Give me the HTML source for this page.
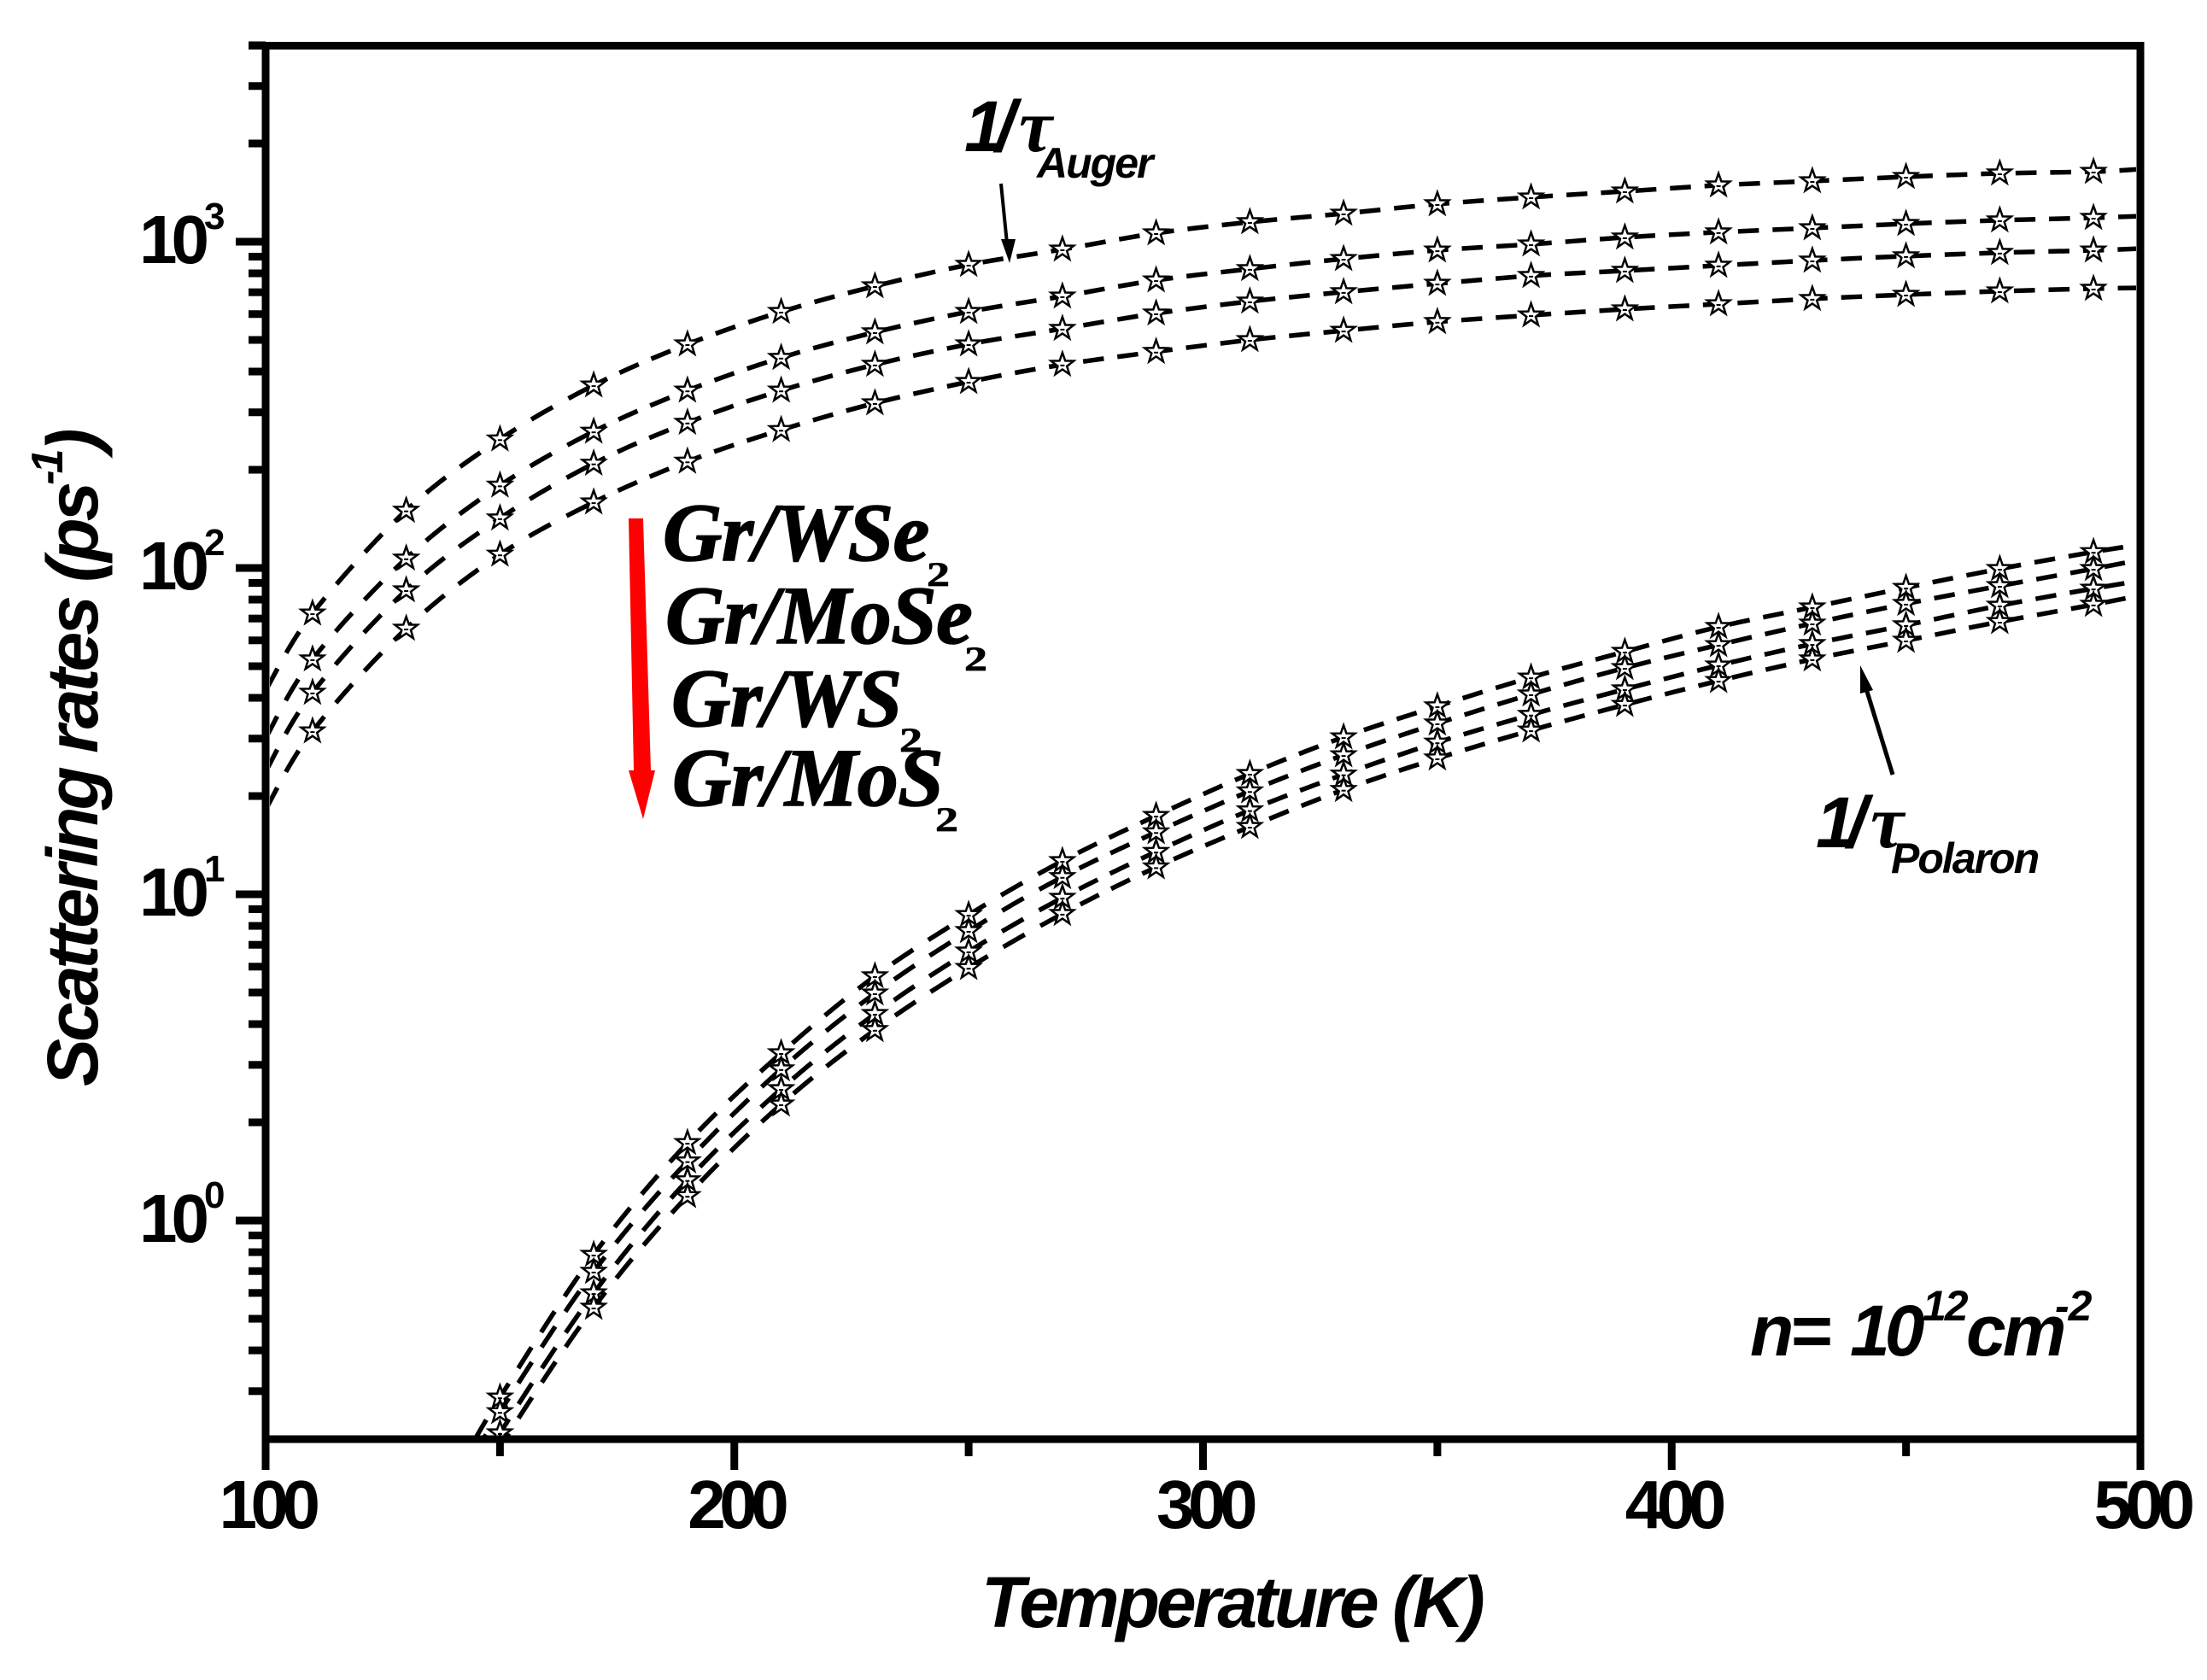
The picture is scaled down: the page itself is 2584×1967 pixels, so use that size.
<!DOCTYPE html>
<html lang="en">
<head>
<meta charset="utf-8">
<title>Scattering rates vs temperature</title>
<style>
html,body{margin:0;padding:0;background:#fff;}
svg{display:block;}
.sans{font-family:"Liberation Sans",sans-serif;font-weight:bold;fill:#000;}
.bi{font-family:"Liberation Sans",sans-serif;font-weight:bold;font-style:italic;fill:#000;}
.serif{font-family:"Liberation Serif",serif;font-weight:bold;font-style:italic;fill:#000;}
.heavy{stroke:#000;stroke-width:1.6;}
.serif2{font-family:"Liberation Serif",serif;font-weight:bold;fill:#000;stroke:#000;stroke-width:0.7;}
</style>
</head>
<body>
<svg id="chart" xmlns="http://www.w3.org/2000/svg" width="2584" height="1967" viewBox="0 0 2584 1967">
  <rect x="0" y="0" width="2584" height="1967" fill="#fff"/>
  <defs><clipPath id="plotClip"><rect x="316" y="58" width="2185" height="1623"/></clipPath></defs>
  <g id="series" clip-path="url(#plotClip)"></g>
  <g id="axes"></g>

  <text class="bi" x="1149" y="1905" font-size="84" letter-spacing="-4">Temperature (K)</text>
  <text class="bi" transform="translate(114,1272) rotate(-90)" font-size="84" letter-spacing="-4">Scattering rates (ps<tspan font-size="52" dy="-41">-1</tspan><tspan dy="41">)</tspan></text>

  <polygon points="736,607 753,607 762,902 767,902 753,959 736,902 742,902" fill="#ff0000"/>

  <g>
    <text class="serif heavy" x="776" y="656" font-size="96" letter-spacing="-0.5">Gr/WSe</text>
    <text class="serif2" transform="translate(1085,686) scale(1.35,1)" font-size="40">2</text>
    <text class="serif heavy" x="779" y="753" font-size="96" letter-spacing="-0.5">Gr/MoSe</text>
    <text class="serif2" transform="translate(1129,785) scale(1.35,1)" font-size="40">2</text>
    <text class="serif heavy" x="786" y="850" font-size="96" letter-spacing="-0.5">Gr/WS</text>
    <text class="serif2" transform="translate(1053,880) scale(1.35,1)" font-size="40">2</text>
    <text class="serif heavy" x="787" y="943" font-size="96" letter-spacing="-0.5">Gr/MoS</text>
    <text class="serif2" transform="translate(1095,973) scale(1.35,1)" font-size="40">2</text>
  </g>

  <g>
    <text class="bi" x="1129" y="177" font-size="84" letter-spacing="-10">1/</text>
    <text class="serif" x="1193" y="177" font-size="88">τ</text>
    <text class="bi" x="1214" y="208" font-size="50" letter-spacing="-2">Auger</text>
    <line x1="1172" y1="215" x2="1179" y2="285" stroke="#000" stroke-width="4"/>
    <polygon points="1172,280 1189,280 1182,308" fill="#000"/>
  </g>

  <g>
    <text class="bi" x="2126" y="992" font-size="84" letter-spacing="-10">1/</text>
    <text class="serif" x="2190" y="992" font-size="88">τ</text>
    <text class="bi" x="2214" y="1022" font-size="50" letter-spacing="-2">Polaron</text>
    <line x1="2216" y1="907" x2="2183" y2="800" stroke="#000" stroke-width="5"/>
    <polygon points="2178,779 2193,808 2178,812" fill="#000"/>
  </g>

  <g>
    <text class="bi" x="2049" y="1587" font-size="84">n</text>
    <text class="sans" x="2097" y="1587" font-size="84">=</text>
    <text class="bi" x="2166" y="1587" font-size="84" letter-spacing="-6">10</text>
    <text class="bi" x="2251" y="1546" font-size="50" letter-spacing="-2">12</text>
    <text class="bi" x="2302" y="1587" font-size="84" letter-spacing="-4">cm</text>
    <text class="bi" x="2406" y="1546" font-size="50" letter-spacing="-1">-2</text>
  </g>
</svg>

<script>
// ---- Data ----
const markerTemps = [110,130,150,170,190,210,230,250,270,290,310,330,350,370,390,410,430,450,470,490];
const augerTemps = [100,110,130,150,170,190,210,230,250,270,290,310,330,350,370,390,410,430,450,470,490,500];
const augerWSe2  = [42.2,72.6,150,248,363,485,610,731,850,947,1062,1149,1220,1304,1368,1427,1489,1534,1581,1620,1639,1669];
const augerMoSe2 = [30.1,52.5,107,179,262,350,441,528,610,680,762,825,886,941,982,1031,1069,1101,1135,1163,1184,1198];
const augerWS2   = [23.8,41.5,85.5,142,209,279,350,420,485,541,603,656,701,744,786,815,845,876,903,925,941,953];
const augerMoS2  = [18.2,31.6,65.2,110,159,212,265,320,372,420,460,500,534,568,595,621,644,668,688,705,718,722];
const polaronTemps = [140,150,170,190,210,230,250,270,290,310,330,350,370,390,410,430,450,470,490,500];
const polaronWSe2  = [0.162,0.287,0.786,1.73,3.26,5.61,8.65,12.65,17.4,23.4,30.3,37.7,46.2,55.4,66.0,75.8,87.0,99.4,112,118];
const polaronMoSe2 = [0.146,0.259,0.697,1.52,2.91,4.97,7.72,11.3,15.5,20.7,26.7,33.4,41.0,49.4,58.1,67.6,77.7,88.1,99.4,106];
const polaronWS2   = [0.126,0.223,0.599,1.33,2.53,4.30,6.68,9.76,13.5,18.1,23.3,29.2,35.5,42.5,50.3,58.5,66.8,76.7,86.5,91.4];
const polaronMoS2  = [0.114,0.202,0.541,1.19,2.27,3.84,5.95,8.71,12.1,16.1,20.9,26.1,31.8,38.1,45.1,52.5,59.9,68.4,77.2,82.5];
const xMajorTicks = [100,200,300,400,500];
const xMinorTicks = [150,250,350,450];
const xTickLabels = ["100","200","300","400","500"];
const yDecades = [0,1,2,3];
const yExponentLabels = ["0","1","2","3"];
const yMinorMultipliers = [2,3,4,5,6,7,8,9];
const xDomain = [100,500];
const yDomain = [0.2138,4000];

// ---- Axis functions ----
const plotLeft = 311, plotRight = 2506, plotTop = 53, plotBottom = 1685;
function xScale(t){ return plotLeft + (t - xDomain[0]) / (xDomain[1] - xDomain[0]) * (plotRight - plotLeft); }
function yScale(v){
  const lo = Math.log10(yDomain[0]), hi = Math.log10(yDomain[1]);
  return plotBottom - (Math.log10(v) - lo) / (hi - lo) * (plotBottom - plotTop);
}

const NS = "http://www.w3.org/2000/svg";
const seriesLayer = document.getElementById("series");
const axesLayer = document.getElementById("axes");
function make(tag, parent){ const el = document.createElementNS(NS, tag); parent.appendChild(el); return el; }

function segmentPath(pts, i){
  const p0 = pts[Math.max(i-1,0)], p1 = pts[i], p2 = pts[i+1], p3 = pts[Math.min(i+2,pts.length-1)];
  const c1x = p1[0] + (p2[0]-p0[0])/6, c1y = p1[1] + (p2[1]-p0[1])/6;
  const c2x = p2[0] - (p3[0]-p1[0])/6, c2y = p2[1] - (p3[1]-p1[1])/6;
  return "M" + p1[0].toFixed(1) + "," + p1[1].toFixed(1) + "C" + c1x.toFixed(1) + "," + c1y.toFixed(1) + " " + c2x.toFixed(1) + "," + c2y.toFixed(1) + " " + p2[0].toFixed(1) + "," + p2[1].toFixed(1);
}
function starPoints(cx, cy){
  const R = 14, r = 5.6, out = [];
  for (let i = 0; i < 10; i++){
    const a = -Math.PI/2 + i*Math.PI/5, q = i%2 ? r : R;
    out.push((cx + q*Math.cos(a)).toFixed(1) + "," + (cy + q*Math.sin(a)).toFixed(1));
  }
  return out.join(" ");
}
function drawSeries(name, temps, values){
  const g = make("g", seriesLayer);
  
  
  const pts = temps.map(function(t,i){ return [xScale(t), yScale(values[i])]; });
  let travelled = 0;
  for (let i = 0; i < pts.length - 1; i++){
    const slope = Math.abs((pts[i+1][1]-pts[i][1]) / (pts[i+1][0]-pts[i][0]));
    const steep = slope > 0.55;
    const dash = steep ? 29 : 24.5;
    const gap = steep ? 21 : 16;
    const seg = make("path", g);
    
    
    seg.setAttribute("d", segmentPath(pts, i));
    seg.setAttribute("fill", "none");
    seg.setAttribute("stroke", "#000");
    seg.setAttribute("stroke-width", "5.5");
    seg.setAttribute("stroke-dasharray", dash + " " + gap);
    seg.setAttribute("stroke-dashoffset", (travelled % (dash + gap)).toFixed(1));
    travelled += seg.getTotalLength();
  }
  temps.forEach(function(t,i){
    if (markerTemps.indexOf(t) < 0) return;
    const star = make("polygon", g);
    
    
    star.setAttribute("points", starPoints(xScale(t), yScale(values[i])));
    star.setAttribute("fill", "#fff");
    star.setAttribute("stroke", "#000");
    star.setAttribute("stroke-width", "2.5");
    const dot = make("rect", g);
    
    
    dot.setAttribute("x", (xScale(t)-2.5).toFixed(1));
    dot.setAttribute("y", (yScale(values[i])).toFixed(1));
    dot.setAttribute("width", "5");
    dot.setAttribute("height", "2");
    dot.setAttribute("fill", "#000");
  });
}
drawSeries("auger-gr-wse2", augerTemps, augerWSe2);
drawSeries("auger-gr-mose2", augerTemps, augerMoSe2);
drawSeries("auger-gr-ws2", augerTemps, augerWS2);
drawSeries("auger-gr-mos2", augerTemps, augerMoS2);
drawSeries("polaron-gr-wse2", polaronTemps, polaronWSe2);
drawSeries("polaron-gr-mose2", polaronTemps, polaronMoSe2);
drawSeries("polaron-gr-ws2", polaronTemps, polaronWS2);
drawSeries("polaron-gr-mos2", polaronTemps, polaronMoS2);

function bar(x, y, w, h){
  const r = make("rect", axesLayer);
  r.setAttribute("x", x); r.setAttribute("y", y);
  r.setAttribute("width", w); r.setAttribute("height", h);
  r.setAttribute("fill", "#000");
  return r;
}
const frameLeft = bar(plotLeft-4.5, plotTop-3.5, 9, 1721-plotTop+3.5);


const frameRight = bar(plotRight-4.5, plotTop-3.5, 9, 1721-plotTop+3.5);


const frameTop = bar(291, plotTop-4, plotRight+4.5-291, 9);


const frameBottom = bar(plotLeft-4.5, plotBottom-4.5, plotRight-plotLeft+9, 9);



xMajorTicks.forEach(function(t,i){
  const x = xScale(t);
  const tick = bar(x-4.5, plotBottom, 9, 36);
  
  
  const label = make("text", axesLayer);
  
  
  label.setAttribute("class", "sans");
  label.setAttribute("x", x + 1);
  label.setAttribute("y", 1789);
  label.setAttribute("font-size", "80");
  label.setAttribute("letter-spacing", "-7.5");
  label.setAttribute("text-anchor", "middle");
  label.textContent = xTickLabels[i];
});
xMinorTicks.forEach(function(t){
  const tick = bar(xScale(t)-4.5, plotBottom, 9, 20);
  
  
});
yDecades.forEach(function(e,i){
  const v = Math.pow(10, e), y = yScale(v);
  const tick = bar(276, y-4.5, plotLeft-276, 9);
  
  
  const base = make("text", axesLayer);
  
  
  base.setAttribute("class", "sans");
  base.setAttribute("x", 163);
  base.setAttribute("y", y + 25);
  base.setAttribute("font-size", "80");
  base.setAttribute("letter-spacing", "-7");
  base.textContent = "10";
  const exp = make("text", axesLayer);
  
  
  exp.setAttribute("class", "sans");
  exp.setAttribute("x", 239);
  exp.setAttribute("y", y - 15);
  exp.setAttribute("font-size", "44");
  exp.textContent = yExponentLabels[i];
});
[-1,0,1,2,3].forEach(function(e){
  yMinorMultipliers.forEach(function(m){
    const v = m * Math.pow(10, e);
    if (v <= yDomain[0] || v > yDomain[1]) return;
    const tick = bar(291, yScale(v)-4.5, plotLeft-291, 9);
    
    
  });
});
</script>
</body>
</html>
